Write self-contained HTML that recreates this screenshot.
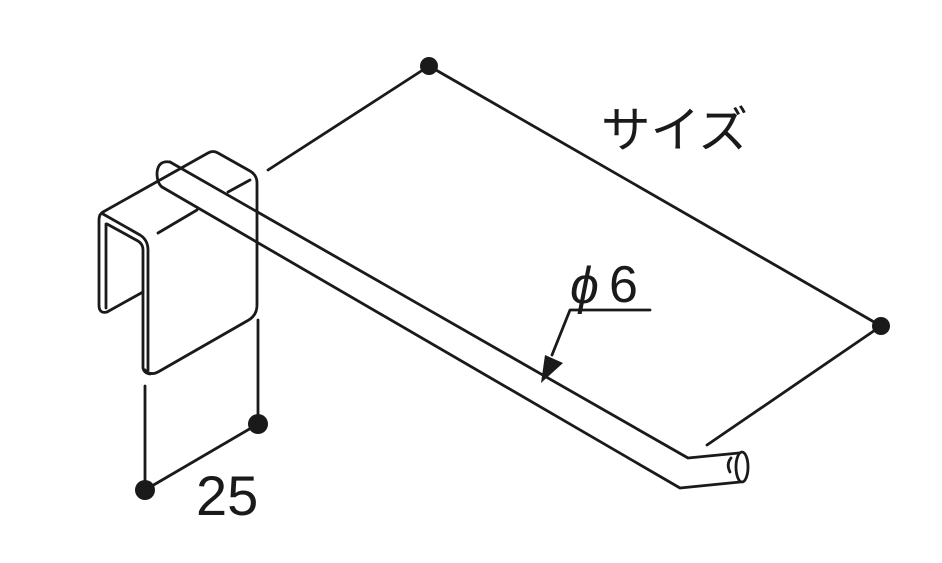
<!DOCTYPE html>
<html><head><meta charset="utf-8"><style>
html,body{margin:0;padding:0;background:#fff;width:942px;height:563px;overflow:hidden}
svg{display:block}
</style></head><body>
<svg width="942" height="563" viewBox="0 0 942 563" xmlns="http://www.w3.org/2000/svg">
<g fill="none" stroke="#1a1a1a" stroke-width="2.8" stroke-linejoin="round" stroke-linecap="round">
<line x1="429" y1="66" x2="881" y2="326"/>
<line x1="429" y1="66" x2="268" y2="170"/>
<line x1="881" y1="326" x2="707" y2="445"/>
<line x1="258" y1="424" x2="145" y2="490"/>
<line x1="258" y1="424" x2="258" y2="320"/>
<line x1="145" y1="490" x2="145" y2="386"/>
<path d="M103,212 L208,153 Q213,150 218,153 L250,171 Q257,175 257,183 L257,305 Q257,316 247,321 L158,372 Q150,376 145,370"/>
<path d="M103,212 Q99,214 99,220 L99,305 Q99,314 107,312 L143,292"/>
<path d="M106,224 L106,308"/>
<path d="M103,214 L140,235 Q148,240 148,250 L148,370"/>
<path d="M107,224 L138,241 Q143,244 143,250 L143,368 Q144,373 150,374"/>
<line x1="158" y1="233" x2="197" y2="210"/>
<line x1="228" y1="192" x2="250" y2="180"/>
<path d="M170,162 L688,458 L739,453"/>
<path d="M162,187 L680,488 L740,482"/>
<path d="M170,162 Q158,160 157,173 Q157,183 162,187"/>
<ellipse cx="742" cy="467" rx="6" ry="15" fill="#fff"/>
<path d="M731,458 Q726,464 730,472"/>
<path d="M650,310 L570,310 L552,355"/>
</g>
<polygon points="541,383 545,355 563,363" fill="#1a1a1a"/>
<g fill="#1a1a1a">
<circle cx="429" cy="66" r="9"/>
<circle cx="881" cy="326" r="9"/>
<circle cx="258" cy="424" r="10"/>
<circle cx="145" cy="490" r="10"/>
</g>
<g fill="#1a1a1a" font-family="'Liberation Sans','Noto Sans CJK JP',sans-serif">
<text x="601" y="147" font-size="49" textLength="147" lengthAdjust="spacingAndGlyphs">サイズ</text>
<text x="196" y="515" font-size="56">25</text>
<text x="570" y="303" font-size="52" font-style="italic">ϕ</text>
<text x="609" y="302" font-size="52">6</text>
</g>
</svg>
</body></html>
